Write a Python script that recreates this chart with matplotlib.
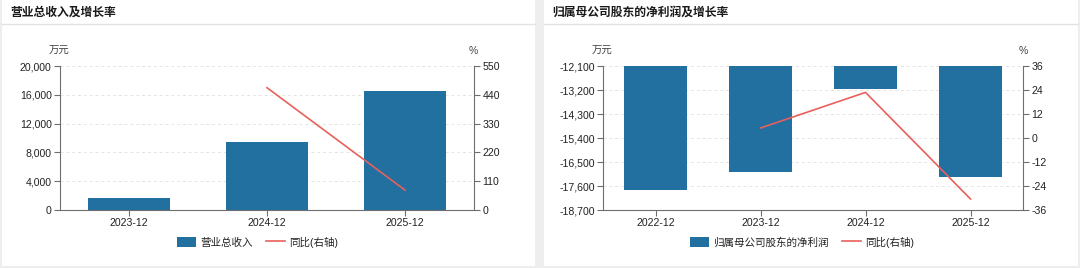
import numpy as np
import matplotlib.pyplot as plt
from matplotlib.patches import Rectangle, Patch
from matplotlib.lines import Line2D

plt.rcParams['font.family'] = ['Liberation Sans', 'Noto Sans CJK SC', 'DejaVu Sans']

# data
rev_periods = ["2023-12", "2024-12", "2025-12"]
rev_values = [1660, 9400, 16500]          # 万元
rev_yoy = [np.nan, 467, 76]               # %

np_periods = ["2022-12", "2023-12", "2024-12", "2025-12"]
np_values = [-17800, -16960, -13150, -17170]   # 万元
np_yoy = [np.nan, 5.0, 22.8, -30.5]            # %

bar_color = "#21709f"
line_color = "#e8605c"
axis_color = "#6e6e6e"
grid_color = "#e4e4e4"
text_color = "#222222"

W, H = 1080, 268
fig = plt.figure(figsize=(W / 100, H / 100), dpi=100, facecolor="#eeeeee")


def px(x0, y0, x1, y1):
    return [x0 / W, 1 - y1 / H, (x1 - x0) / W, (y1 - y0) / H]


# white cards (behind the axes)
for x0, x1 in [(2, 535), (544, 1078)]:
    fig.patches.append(Rectangle((x0 / W, 1 - 266 / H), (x1 - x0) / W, 266 / H,
                                 transform=fig.transFigure, facecolor="white",
                                 edgecolor="none", zorder=-5))
    fig.add_artist(Line2D([x0 / W, x1 / W], [1 - 23.5 / H, 1 - 23.5 / H],
                          color="#e2e2e2", lw=1, transform=fig.transFigure, zorder=-4))


def style_axes(ax, ax2, cats, yticks, ylabels, y2ticks, y2labels):
    n = len(cats)
    ax.set_xlim(-0.5, n - 0.5)
    ax.set_xticks(range(n))
    ax.set_xticklabels(cats, fontsize=7.6, color=text_color)
    ax.set_ylim(yticks[0], yticks[-1])
    ax.set_yticks(yticks)
    ax.set_yticklabels(ylabels, fontsize=7.6, color=text_color)
    ax2.set_ylim(y2ticks[0], y2ticks[-1])
    ax2.set_yticks(y2ticks)
    ax2.set_yticklabels(y2labels, fontsize=7.6, color=text_color)
    for a in (ax, ax2):
        a.set_facecolor("none")
        a.spines["top"].set_visible(False)
        for s in ("left", "right", "bottom"):
            a.spines[s].set_color(axis_color)
            a.spines[s].set_linewidth(0.8)
        a.tick_params(axis="both", length=4, width=0.8, color=axis_color, pad=2)
    ax.spines["right"].set_visible(False)
    ax2.spines["left"].set_visible(False)
    ax2.spines["bottom"].set_visible(False)
    ax.yaxis.grid(True, color=grid_color, lw=0.7, ls=(0, (3, 3)))
    ax.set_axisbelow(True)


# left panel: revenue
ax = fig.add_axes(px(60, 66, 474, 210))
ax2 = ax.twinx()
x = np.arange(len(rev_periods))
ax.bar(x, rev_values, width=0.6, color=bar_color, zorder=2)
ax2.plot(x, rev_yoy, color=line_color, lw=1.2)
yt = [0, 4000, 8000, 12000, 16000, 20000]
y2t = [0, 110, 220, 330, 440, 550]
style_axes(ax, ax2, rev_periods, yt, [f"{v:,}" for v in yt], y2t, [str(v) for v in y2t])

fig.text(10 / W, 1 - 13 / H, "营业总收入及增长率", fontsize=8.5, fontweight="bold",
         color="#1a1a1a", va="center", ha="left")
fig.text(59 / W, 1 - 51 / H, "万元", fontsize=7.5, color="#444444", ha="center", va="center")
fig.text(473 / W, 1 - 51 / H, "%", fontsize=7.5, color="#444444", ha="center", va="center")
handles = [Patch(facecolor=bar_color, label="营业总收入"),
           Line2D([], [], color=line_color, lw=1.2, label="同比(右轴)")]
fig.legend(handles=handles, loc="center", bbox_to_anchor=(257.5 / W, 1 - 242 / H), ncol=2,
           frameon=False, fontsize=7.6, handlelength=1.8, handleheight=1.1,
           handletextpad=0.4, columnspacing=1.2, labelcolor=text_color)

# right panel: net profit
bx = fig.add_axes(px(603, 66, 1023, 210))
bx2 = bx.twinx()
x = np.arange(len(np_periods))
top = -12100
bx.bar(x, np.array(np_values) - top, bottom=top, width=0.6, color=bar_color, zorder=2)
bx2.plot(x, np_yoy, color=line_color, lw=1.2)
yt = [-18700, -17600, -16500, -15400, -14300, -13200, -12100]
y2t = [-36, -24, -12, 0, 12, 24, 36]
style_axes(bx, bx2, np_periods, yt, [f"{v:,}" for v in yt], y2t, [str(v) for v in y2t])

fig.text(552 / W, 1 - 13 / H, "归属母公司股东的净利润及增长率", fontsize=8.5, fontweight="bold",
         color="#1a1a1a", va="center", ha="left")
fig.text(602 / W, 1 - 51 / H, "万元", fontsize=7.5, color="#444444", ha="center", va="center")
fig.text(1023 / W, 1 - 51 / H, "%", fontsize=7.5, color="#444444", ha="center", va="center")
handles = [Patch(facecolor=bar_color, label="归属母公司股东的净利润"),
           Line2D([], [], color=line_color, lw=1.2, label="同比(右轴)")]
fig.legend(handles=handles, loc="center", bbox_to_anchor=(802 / W, 1 - 242 / H), ncol=2,
           frameon=False, fontsize=7.6, handlelength=1.8, handleheight=1.1,
           handletextpad=0.4, columnspacing=1.2, labelcolor=text_color)

fig.savefig("out.png", dpi=100, facecolor=fig.get_facecolor())
